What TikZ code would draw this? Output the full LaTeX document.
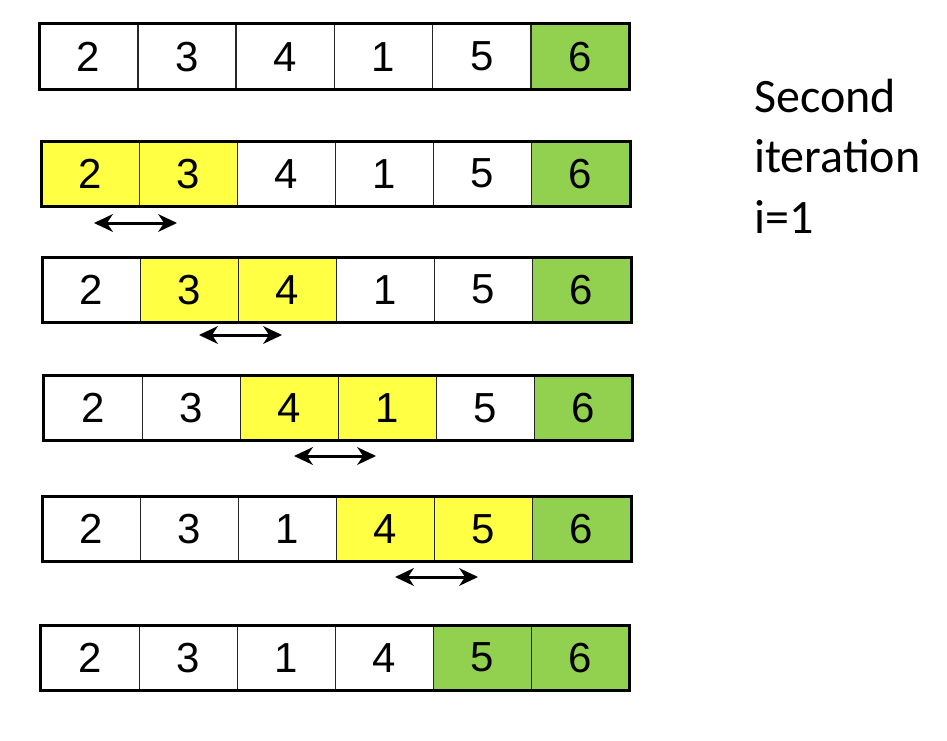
\documentclass[tikz,border=0pt]{standalone}
\usepackage{fontspec}
\setmainfont{Liberation Sans}
\newfontfamily\labelfam{Carlito}
\definecolor{cellyellow}{RGB}{255,255,68}
\definecolor{cellgreen}{RGB}{146,208,80}
\begin{document}
\begin{tikzpicture}[x=1pt,y=-1pt,
  cell/.style={draw=black!85, line width=1.2pt, minimum width=98pt, minimum height=64pt,
    inner sep=0pt, anchor=north west, font=\fontsize{42}{42}\selectfont},
  frame/.style={draw=black, line width=3pt},
  shaft/.style={draw=black, line width=3pt},
  headfill/.style={fill=black},
  lab/.style={anchor=base west, inner sep=0pt, font=\labelfam\fontsize{48}{48}\selectfont}]
\useasboundingbox (0,0) rectangle (947,741);
% row 1
\foreach \v/\c [count=\i from 0] in {2/white,3/white,4/white,1/white,5/white,6/cellgreen}
  \node[cell, fill=\c] (a\i) at (39+\i*98.3, 24) {\v};
\draw[frame] (a0.north west) rectangle (a5.south east);
% row 2
\foreach \v/\c [count=\i from 0] in {2/cellyellow,3/cellyellow,4/white,1/white,5/white,6/cellgreen}
  \node[cell, fill=\c] (b\i) at (41+\i*98, 141) {\v};
\draw[frame] (b0.north west) rectangle (b5.south east);
% row 3
\foreach \v/\c [count=\i from 0] in {2/white,3/cellyellow,4/cellyellow,1/white,5/white,6/cellgreen}
  \node[cell, fill=\c] (c\i) at (42+\i*98, 257) {\v};
\draw[frame] (c0.north west) rectangle (c5.south east);
% row 4
\foreach \v/\c [count=\i from 0] in {2/white,3/white,4/cellyellow,1/cellyellow,5/white,6/cellgreen}
  \node[cell, fill=\c] (d\i) at (43.5+\i*98, 375.5) {\v};
\draw[frame] (d0.north west) rectangle (d5.south east);
% row 5
\foreach \v/\c [count=\i from 0] in {2/white,3/white,1/white,4/cellyellow,5/cellyellow,6/cellgreen}
  \node[cell, fill=\c] (e\i) at (42+\i*98, 496.5) {\v};
\draw[frame] (e0.north west) rectangle (e5.south east);
% row 6
\foreach \v/\c [count=\i from 0] in {2/white,3/white,1/white,4/white,5/cellgreen,6/cellgreen}
  \node[cell, fill=\c] (f\i) at (40.5+\i*98, 625) {\v};
\draw[frame] (f0.north west) rectangle (f5.south east);
% swap arrows
\coordinate (s1a) at (94,223);  \coordinate (s1b) at (177,223);
\coordinate (s2a) at (199,335); \coordinate (s2b) at (282,335);
\coordinate (s3a) at (294,456); \coordinate (s3b) at (376,456);
\coordinate (s4a) at (395,577); \coordinate (s4b) at (478,577);
\foreach \p in {1,2,3,4}{
  \draw[shaft] ([xshift=6pt]s\p a) -- ([xshift=-6pt]s\p b);
  \fill[headfill] (s\p b) -- ++(-19,-9) -- ++(6,9) -- ++(-6,9) -- cycle;
  \fill[headfill] (s\p a) -- ++(19,-9) -- ++(-6,9) -- ++(6,9) -- cycle;
}
% label
\node[lab] (t1) at (754,113) {Second};
\node[lab] (t2) at (754,172) {iteration};
\node[lab] (t3) at (754,233) {i=1};
\end{tikzpicture}
\end{document}
